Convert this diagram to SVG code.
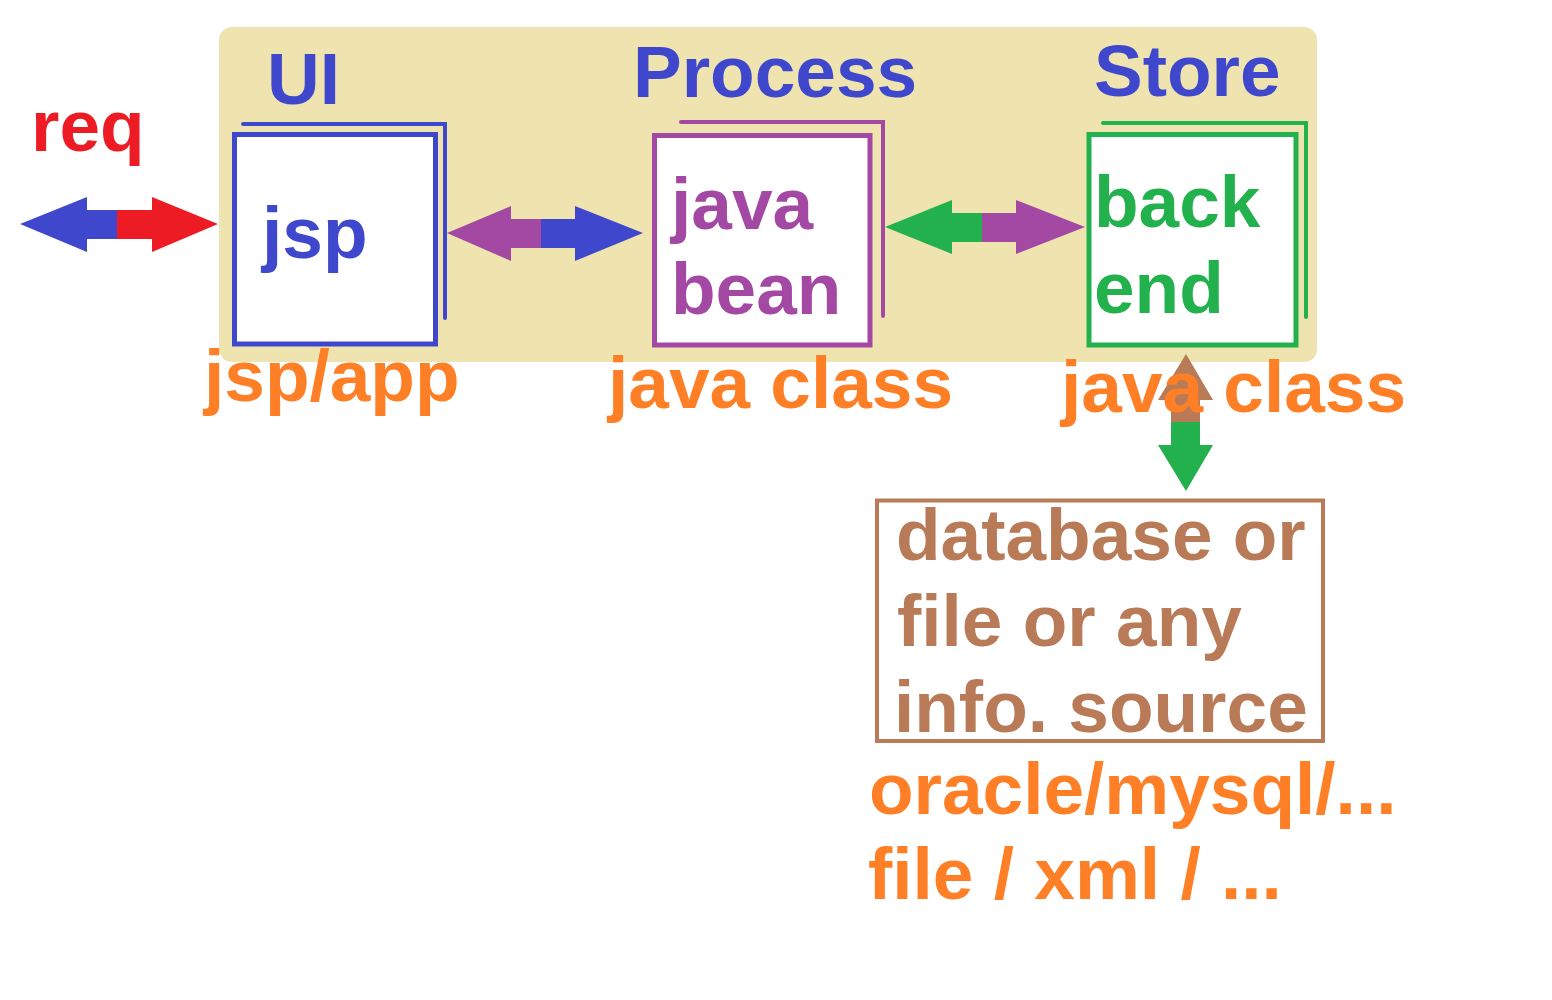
<svg xmlns="http://www.w3.org/2000/svg" width="1552" height="1000" viewBox="0 0 1552 1000">
  <style>
    text { font-family: "Liberation Sans", Arial, sans-serif; font-weight: bold; font-size: 73px; }
    .blue { fill: #3F48CC; }
    .red { fill: #ED1C24; }
    .purple { fill: #A349A4; }
    .green { fill: #22B14C; }
    .orange { fill: #FF7F27; }
    .brown { fill: #B97A57; }
    .box { fill: #FFFFFF; stroke-width: 5; }
    .back { fill: none; stroke-width: 4; stroke-linecap: round; stroke-linejoin: miter; }
  </style>
  <rect width="1552" height="1000" fill="#FFFFFF"/>
  <rect id="layer" x="219" y="27" width="1098" height="335" rx="13" ry="13" fill="#EFE4B0"/>

  <text class="red" x="31" y="151">req</text>
  <text class="blue" x="267" y="104">UI</text>
  <text class="blue" x="633" y="97">Process</text>
  <text class="blue" x="1094" y="96">Store</text>

  <g id="node-jsp">
    <path class="back" d="M243,124 H445 V318" stroke="#3F48CC"/>
    <rect class="box" x="234.5" y="134.5" width="201" height="209.5" stroke="#3F48CC"/>
    <text class="blue" x="262" y="258">jsp</text>
  </g>

  <g id="node-bean">
    <path class="back" d="M681,122 H883 V316" stroke="#A349A4"/>
    <rect class="box" x="654.5" y="135.5" width="215.5" height="209.5" stroke="#A349A4"/>
    <text class="purple" x="671" y="229">java</text>
    <text class="purple" x="671" y="314">bean</text>
  </g>

  <g id="node-backend">
    <path class="back" d="M1103,123 H1306 V317" stroke="#22B14C"/>
    <rect class="box" x="1089" y="134.5" width="207" height="210.5" stroke="#22B14C"/>
    <text class="green" x="1094" y="227">back</text>
    <text class="green" x="1094" y="313">end</text>
  </g>

  <g id="node-source">
    <rect x="877" y="500.5" width="446" height="240.5" fill="#FFFFFF" stroke="#B97A57" stroke-width="4"/>
    <text class="brown" x="896" y="560">database or</text>
    <text class="brown" x="897" y="646">file or any</text>
    <text class="brown" x="894" y="732">info. source</text>
  </g>

  <g id="connectors">
    <!-- req arrow -->
    <polygon class="blue" points="20,224 87,197 87,210 118,210 118,239 87,239 87,252"/>
    <polygon class="red" points="218,224 152,197 152,210 117,210 117,239 152,239 152,252"/>
    <!-- jsp <-> bean -->
    <polygon class="purple" points="447,233 511,206 511,219 542,219 542,248 511,248 511,261"/>
    <polygon class="blue" points="643,233 575,206 575,219 541,219 541,248 575,248 575,261"/>
    <!-- bean <-> backend -->
    <polygon class="green" points="885,227 952,200 952,213 983,213 983,242 952,242 952,254"/>
    <polygon class="purple" points="1085,227 1016,200 1016,213 982,213 982,242 1016,242 1016,254"/>
    <!-- backend <-> source -->
    <polygon class="brown" points="1186,354 1158,400 1171,400 1171,423 1200,423 1200,400 1213,400"/>
    <polygon class="green" points="1186,491 1158,445 1171,445 1171,422 1200,422 1200,445 1213,445"/>
  </g>

  <text class="orange" x="204" y="401">jsp/app</text>
  <text class="orange" x="608" y="408">java class</text>
  <text class="orange" x="1061" y="412">java class</text>
  <text class="orange" x="869" y="814">oracle/mysql/...</text>
  <text class="orange" x="868" y="899">file / xml / ...</text>
</svg>
